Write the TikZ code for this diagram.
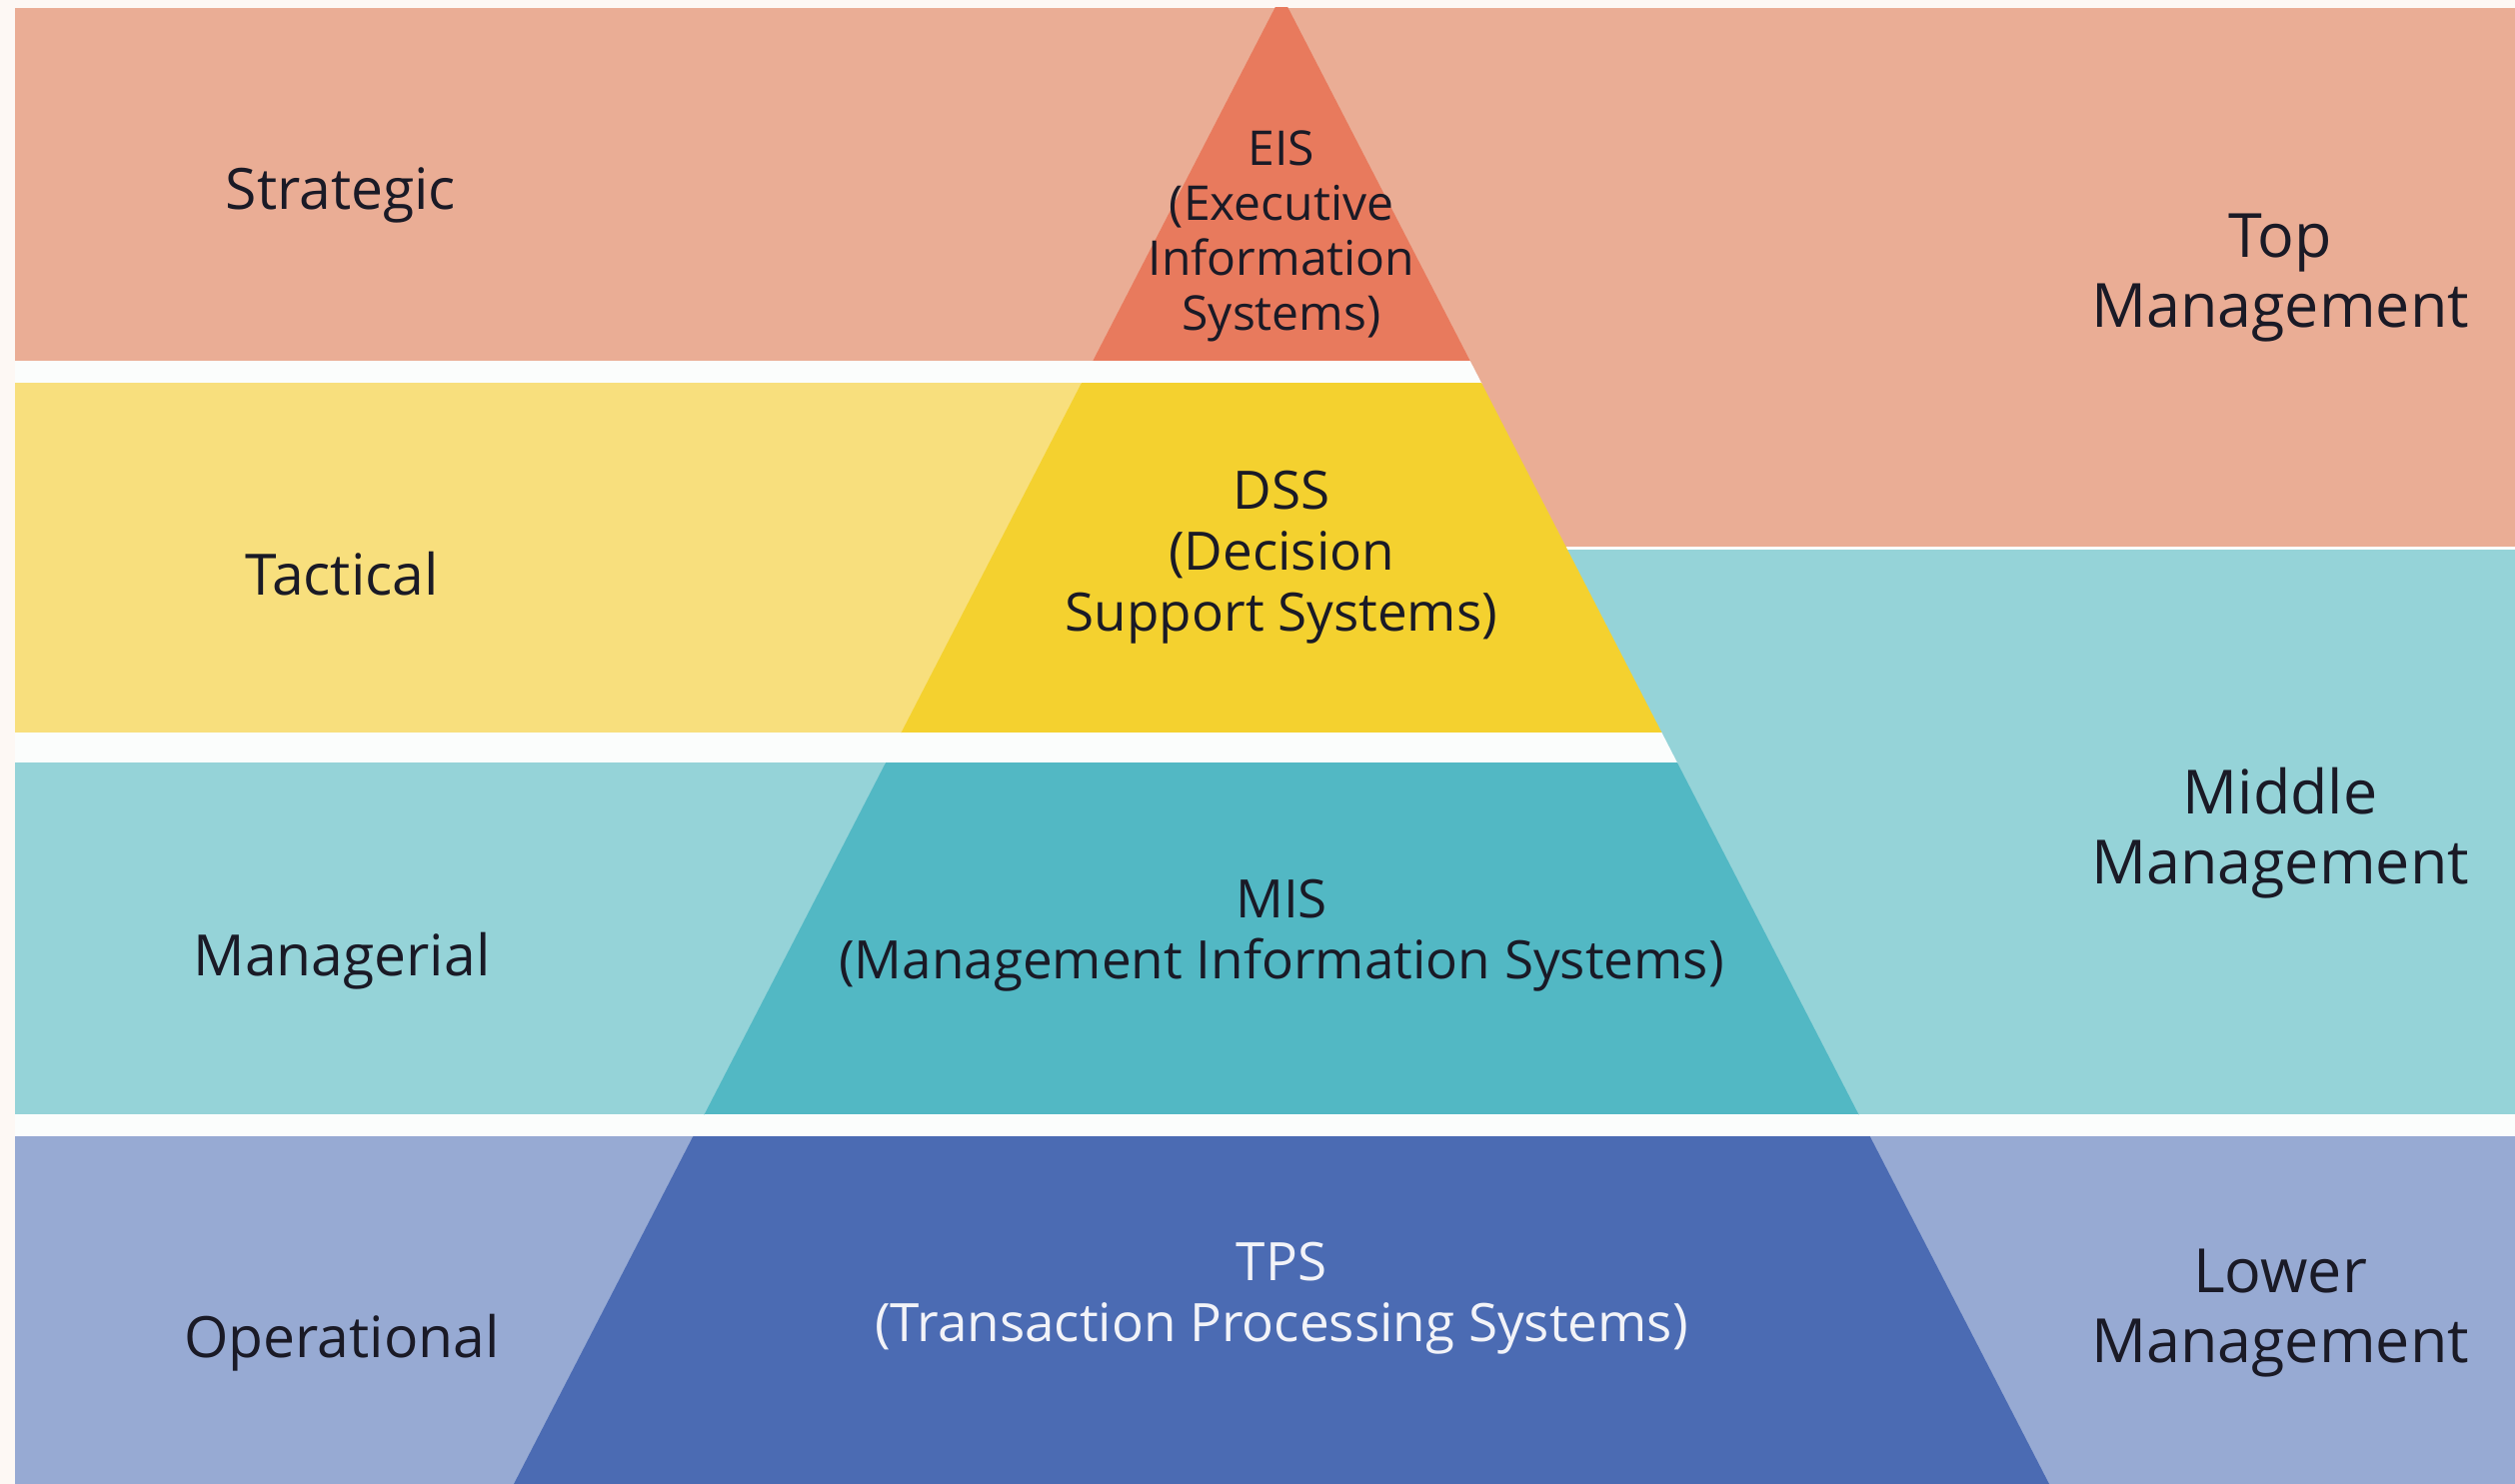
\documentclass[tikz,border=0pt]{standalone}
\usepackage{fontspec}
\setmainfont{Open Sans}
\definecolor{bgcream}{HTML}{FDF8F4}
\definecolor{toplight}{HTML}{EAAD95}
\definecolor{eiscol}{HTML}{E87A5D}
\definecolor{taclight}{HTML}{F8DF7D}
\definecolor{dsscol}{HTML}{F4D12F}
\definecolor{midlight}{HTML}{95D3D8}
\definecolor{miscol}{HTML}{52B8C4}
\definecolor{lowlight}{HTML}{97AAD3}
\definecolor{tpscol}{HTML}{4B6BB3}
\definecolor{inkdark}{HTML}{1A1A26}
\definecolor{inklight}{HTML}{F2F3F8}
\definecolor{gapwhite}{HTML}{FBFDFC}
\tikzset{
  levellabel/.style={inner sep=0pt, align=center, text=inkdark, font=\fontsize{57}{66}\selectfont},
  mgmtlabel/.style={inner sep=0pt, align=center, text=inkdark, font=\fontsize{61}{70}\selectfont},
  syslabel/.style={inner sep=0pt, align=center, text=inkdark, font=\fontsize{53}{61}\selectfont}
}
\begin{document}
\begin{tikzpicture}[x=1pt, y=-1pt]
\useasboundingbox (0,0) rectangle (2516,1485);
\fill[bgcream] (0,0) rectangle (2516,1485);
% bands, left half
\foreach \ya/\yb/\col in {8/361/toplight, 361/383/gapwhite, 383/733/taclight, 733/763/gapwhite, 763/1115/midlight, 1115/1137/gapwhite, 1137/1485/lowlight}
  \fill[\col] (15,\ya) rectangle (1282,\yb);
% bands, right half
\foreach \ya/\yb/\col in {8/548/toplight, 548/1115/midlight, 1115/1137/gapwhite, 1137/1485/lowlight}
  \fill[\col] (1282,\ya) rectangle (2516,\yb);
\draw[gapwhite, line width=3] (1282,548) -- (2516,548);
% pyramid, cut into slices
\coordinate (apex) at (1282,-5);
\coordinate (baseL) at (514,1485);
\coordinate (baseR) at (2050,1485);
\foreach \ya/\yb/\col in {8/361/eiscol, 361/383/gapwhite, 383/733/dsscol, 733/763/gapwhite, 763/1115/miscol, 1115/1137/gapwhite, 1137/1485/tpscol}{
  \begin{scope}
    \clip (0,\ya) rectangle (2516,\yb);
    \fill[\col] (apex) -- (baseL) -- (baseR) -- cycle;
  \end{scope}
}
% level names
\node[levellabel] (strategic) at (341,195) {Strategic};
\node[levellabel] (tactical) at (342,574) {Tactical};
\node[levellabel] (managerial) at (342,962) {Managerial};
\node[levellabel] (operational) at (342,1344) {Operational};
% systems
\node[syslabel, font=\fontsize{48}{55}\selectfont] (eis) at (1282,236) {EIS\\(Executive\\Information\\Systems)};
\node[syslabel] (dss) at (1282,558) {DSS\\(Decision\\Support Systems)};
\node[syslabel] (mis) at (1282,936) {MIS\\(Management Information Systems)};
\node[syslabel, text=inklight] (tps) at (1282,1299) {TPS\\(Transaction Processing Systems)};
% management
\node[mgmtlabel] (topmgmt) at (2281,278) {Top\\Management};
\node[mgmtlabel] (midmgmt) at (2281,834) {Middle\\Management};
\node[mgmtlabel] (lowmgmt) at (2281,1314) {Lower\\Management};
\end{tikzpicture}
\end{document}
